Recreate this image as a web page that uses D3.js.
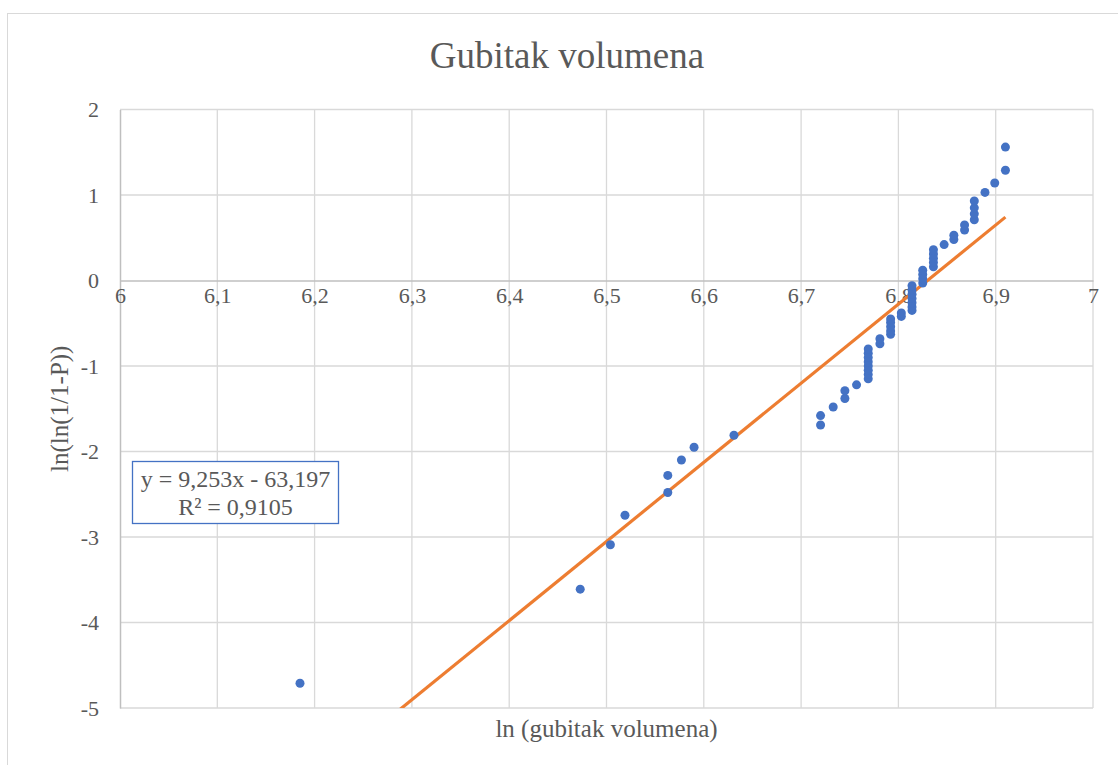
<!DOCTYPE html>
<html>
<head>
<meta charset="utf-8">
<script src="https://cdn.jsdelivr.net/npm/d3@7"></script>
<style>
  body { margin: 0; background: #fff; }
  svg { display: block; }
  svg text { font-family: "Liberation Serif", "Times New Roman", serif; }
</style>
</head>
<body>
<svg id="chart"></svg>
<script>
// Data (ln volume vs ln(ln(1/(1-P))))
const lnVolume = [
  6.185, 6.473, 6.504, 6.519, 6.563, 6.563, 6.577, 6.590, 6.631,
  6.720, 6.720, 6.733, 6.745, 6.745, 6.757,
  6.769, 6.769, 6.769, 6.769, 6.769, 6.769, 6.769, 6.769,
  6.781, 6.781,
  6.792, 6.792, 6.792, 6.792, 6.792,
  6.803, 6.803,
  6.814, 6.814, 6.814, 6.814, 6.814, 6.814, 6.814,
  6.825, 6.825, 6.825, 6.825,
  6.836, 6.836, 6.836, 6.836, 6.836,
  6.847, 6.857, 6.857, 6.868, 6.868,
  6.878, 6.878, 6.878, 6.878,
  6.889, 6.899, 6.910, 6.910
];
const lnLnP = [
  -4.71, -3.61, -3.09, -2.745, -2.48, -2.28, -2.10, -1.95, -1.81,
  -1.69, -1.58, -1.48, -1.38, -1.29, -1.22,
  -1.15, -1.10, -1.05, -1.00, -0.95, -0.90, -0.85, -0.80,
  -0.74, -0.68,
  -0.63, -0.59, -0.54, -0.49, -0.45,
  -0.42, -0.38,
  -0.35, -0.31, -0.26, -0.21, -0.16, -0.11, -0.06,
  -0.03, 0.02, 0.07, 0.12,
  0.16, 0.21, 0.26, 0.31, 0.36,
  0.42, 0.48, 0.53, 0.59, 0.65,
  0.71, 0.78, 0.85, 0.93,
  1.03, 1.14, 1.29, 1.56
];
const xTicks = [6, 6.1, 6.2, 6.3, 6.4, 6.5, 6.6, 6.7, 6.8, 6.9, 7];
const yTicks = [2, 1, 0, -1, -2, -3, -4, -5];
const trendSlope = 9.253;
const trendIntercept = -63.197;
const trendLabel = ["y = 9,253x - 63,197", "R² = 0,9105"];

const points = lnVolume.map((v, i) => ({ x: v, y: lnLnP[i] }));

const width = 1118, height = 765;
const plot = { left: 120, right: 1093, top: 109.5, bottom: 708 };
const textColor = "#595959";

const svg = d3.select("#chart")
    .attr("width", width)
    .attr("height", height);

// chart area border (runs off the right and bottom edge)
svg.append("rect")
    .attr("x", 7.5).attr("y", 13.5)
    .attr("width", 1200).attr("height", 900)
    .attr("fill", "#fff")
    .attr("stroke", "#d9d9d9");

const x = d3.scaleLinear().domain([6, 7]).range([plot.left, plot.right]);
const y = d3.scaleLinear().domain([-5, 2]).range([plot.bottom, plot.top]);

// comma decimals and a plain hyphen for negatives, like the original
const fmt = d => String(+d.toFixed(1)).replace(".", ",");

// gridlines
svg.append("g")
    .selectAll("line")
    .data(xTicks.slice(1))
    .enter().append("line")
    .attr("x1", d => x(d)).attr("x2", d => x(d))
    .attr("y1", plot.top).attr("y2", plot.bottom)
    .attr("stroke", "#d9d9d9").attr("stroke-width", 1.3);

svg.append("g")
    .selectAll("line")
    .data(yTicks.filter(d => d !== 0))
    .enter().append("line")
    .attr("x1", plot.left).attr("x2", plot.right)
    .attr("y1", d => y(d)).attr("y2", d => y(d))
    .attr("stroke", "#d9d9d9").attr("stroke-width", 1.3);

// y axis (at x = 6)
const yAxis = svg.append("g")
    .attr("transform", `translate(${plot.left},0)`)
    .call(d3.axisLeft(y).tickValues(yTicks).tickSize(0).tickPadding(21).tickFormat(fmt));
yAxis.select(".domain").attr("stroke", "#bfbfbf").attr("stroke-width", 1.5);
yAxis.selectAll("text")
    .attr("fill", textColor)
    .style("font-size", "22px")
    .style("font-family", "Liberation Serif");

// x axis (crosses at y = 0)
const xAxis = svg.append("g")
    .attr("transform", `translate(0,${y(0)})`)
    .call(d3.axisBottom(x).tickValues(xTicks).tickSize(0).tickPadding(7).tickFormat(fmt));
xAxis.select(".domain").attr("stroke", "#bfbfbf").attr("stroke-width", 1.5);
xAxis.selectAll("text")
    .attr("fill", textColor)
    .style("font-size", "22px")
    .style("font-family", "Liberation Serif");

// clip for trendline
svg.append("clipPath").attr("id", "plotClip")
    .append("rect")
    .attr("x", plot.left).attr("y", plot.top)
    .attr("width", plot.right - plot.left).attr("height", plot.bottom - plot.top);

// linear trendline
const xMin = d3.min(lnVolume), xMax = d3.max(lnVolume);
svg.append("line")
    .attr("clip-path", "url(#plotClip)")
    .attr("x1", x(xMin)).attr("y1", y(trendSlope * xMin + trendIntercept))
    .attr("x2", x(xMax)).attr("y2", y(trendSlope * xMax + trendIntercept))
    .attr("stroke", "#ed7d31")
    .attr("stroke-width", 3.2);

// points
svg.append("g")
    .selectAll("circle")
    .data(points)
    .enter().append("circle")
    .attr("cx", d => x(d.x))
    .attr("cy", d => y(d.y))
    .attr("r", 4.5)
    .attr("fill", "#4472c4");

// title
svg.append("text")
    .attr("x", 567).attr("y", 68)
    .attr("text-anchor", "middle")
    .attr("fill", textColor)
    .style("font-size", "37px")
    .style("font-family", "Liberation Serif")
    .text("Gubitak volumena");

// axis titles
svg.append("text")
    .attr("x", (plot.left + plot.right) / 2).attr("y", 737)
    .attr("text-anchor", "middle")
    .attr("fill", textColor)
    .style("font-size", "25px")
    .style("font-family", "Liberation Serif")
    .text("ln (gubitak volumena)");

svg.append("text")
    .attr("transform", `translate(68,${(plot.top + plot.bottom) / 2}) rotate(-90)`)
    .attr("text-anchor", "middle")
    .attr("fill", textColor)
    .style("font-size", "25px")
    .style("font-family", "Liberation Serif")
    .text("ln(ln(1/1-P))");

// trendline label box
const box = svg.append("g");
box.append("rect")
    .attr("x", 132.5).attr("y", 461.5)
    .attr("width", 206).attr("height", 62)
    .attr("fill", "#fff")
    .attr("stroke", "#4472c4")
    .attr("stroke-width", 1.3);
box.selectAll("text")
    .data(trendLabel)
    .enter().append("text")
    .attr("x", 235.5)
    .attr("y", (d, i) => 487 + i * 28)
    .attr("text-anchor", "middle")
    .attr("fill", textColor)
    .style("font-size", "24px")
    .style("font-family", "Liberation Serif")
    .text(d => d);
</script>
</body>
</html>
